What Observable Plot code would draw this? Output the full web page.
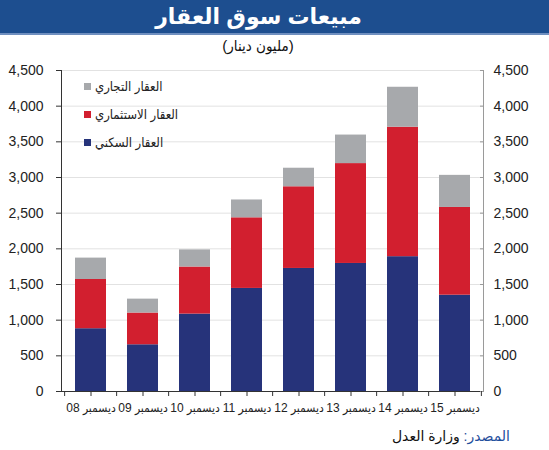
<!DOCTYPE html>
<html><head><meta charset="utf-8">
<script src="https://cdn.jsdelivr.net/npm/d3@7"></script>
<script src="https://cdn.jsdelivr.net/npm/@observablehq/plot@0.6"></script>
<style>
body{margin:0;background:#fff;font-family:"Liberation Sans",Arial,"DejaVu Sans Condensed","DejaVu Sans",sans-serif;}
#wrap{position:relative;width:549px;height:450px;overflow:hidden;background:#fff;}
#title{position:absolute;left:0;top:0;width:549px;height:33px;background:#1d4e8f;border-bottom:2px solid #6f8fbf;color:#fff;font-weight:bold;font-size:22px;line-height:33px;text-align:center;box-sizing:content-box;font-family:"Liberation Sans","DejaVu Sans",sans-serif;}
#title span{position:relative;left:-16px;}
#subtitle{position:absolute;left:0;top:37px;width:516px;text-align:center;font-size:15px;color:#111;direction:rtl;}
#chart{position:absolute;left:0;top:57px;}
#legend{position:absolute;left:84px;top:72px;font-size:13px;color:#222;}
#legend .row{height:28px;display:flex;align-items:center;}
#legend .sw{width:7px;height:7px;margin-right:4px;}
#source{position:absolute;right:39px;top:428px;font-size:14px;color:#111;direction:rtl;font-family:"Liberation Sans","DejaVu Sans",sans-serif;}
#source .lab{color:#1f4e9c;}
</style></head>
<body>
<div id="wrap">
  <div id="title"><span>مبيعات سوق العقار</span></div>
  <div id="subtitle">(مليون دينار)</div>
  <div id="chart"></div>
  <div id="legend"></div>
  <div id="source"><span class="lab">المصدر:</span> وزارة العدل</div>
</div>
<script>
const categories = ["ديسمبر 08","ديسمبر 09","ديسمبر 10","ديسمبر 11","ديسمبر 12","ديسمبر 13","ديسمبر 14","ديسمبر 15"];
const residential = [880, 655, 1085, 1445, 1725, 1795, 1890, 1350];
const investment  = [690, 445, 660, 990, 1145, 1400, 1815, 1230];
const commercial  = [300, 195, 240, 250, 260, 400, 560, 450];
const seriesNames = ["العقار السكني", "العقار الاستثماري", "العقار التجاري"];
const seriesColors = ["#26337a", "#d21f2f", "#a7a9ac"];
const yTicks = [0, 500, 1000, 1500, 2000, 2500, 3000, 3500, 4000, 4500];

const seriesValues = [residential, investment, commercial];
const rows = [];
seriesNames.forEach((s, i) => categories.forEach((c, j) => rows.push({cat: c, series: s, value: seriesValues[i][j]})));

const W = 549, ML = 61, MR = 66;
const step = (W - ML - MR) / categories.length;

const chart = Plot.plot({
  width: W, height: 364,
  marginLeft: ML, marginRight: MR, marginTop: 13, marginBottom: 30,
  style: {fontFamily: '"Liberation Sans", Arial, "DejaVu Sans Condensed", "DejaVu Sans", sans-serif', color: "#222", background: "transparent"},
  x: {domain: categories, paddingInner: 0.41, paddingOuter: 0.205, label: null},
  y: {domain: [0, 4500], label: null},
  color: {domain: seriesNames, range: seriesColors},
  marks: [
    Plot.gridY(yTicks, {stroke: "#e2e2e2", strokeOpacity: 1}),
    Plot.barY(rows, {x: "cat", y: "value", fill: "series", order: seriesNames}),
    Plot.frame({anchor: "right", stroke: "#9a9a9a"}),
    Plot.frame({anchor: "left", stroke: "#333"}),
    Plot.frame({anchor: "bottom", stroke: "#333"}),
    Plot.axisY({anchor: "left", ticks: yTicks, tickFormat: d3.format(","), tickSize: 5, tickPadding: 13, fontSize: 14, stroke: "#333"}),
    Plot.axisY({anchor: "right", ticks: yTicks, tickFormat: d3.format(","), tickSize: -4, tickPadding: 14, fontSize: 14, stroke: "#9a9a9a"}),
    Plot.axisX({tickSize: 0, tickPadding: 12, fontSize: 12}),
    Plot.axisX({tickSize: 5, tickFormat: () => "", stroke: "#333"}),
    Plot.axisX({tickSize: 5, tickFormat: () => "", stroke: "#333", dx: -step / 2}),
    Plot.axisX(categories.slice(-1), {tickSize: 5, tickFormat: () => "", stroke: "#333", dx: step / 2})
  ]
});
document.getElementById("chart").appendChild(chart);

const legend = document.getElementById("legend");
[2, 1, 0].forEach(i => {
  const r = document.createElement("div");
  r.className = "row";
  r.innerHTML = `<div class="sw" style="background:${seriesColors[i]}"></div><span>${seriesNames[i]}</span>`;
  legend.appendChild(r);
});
</script>
</body></html>
